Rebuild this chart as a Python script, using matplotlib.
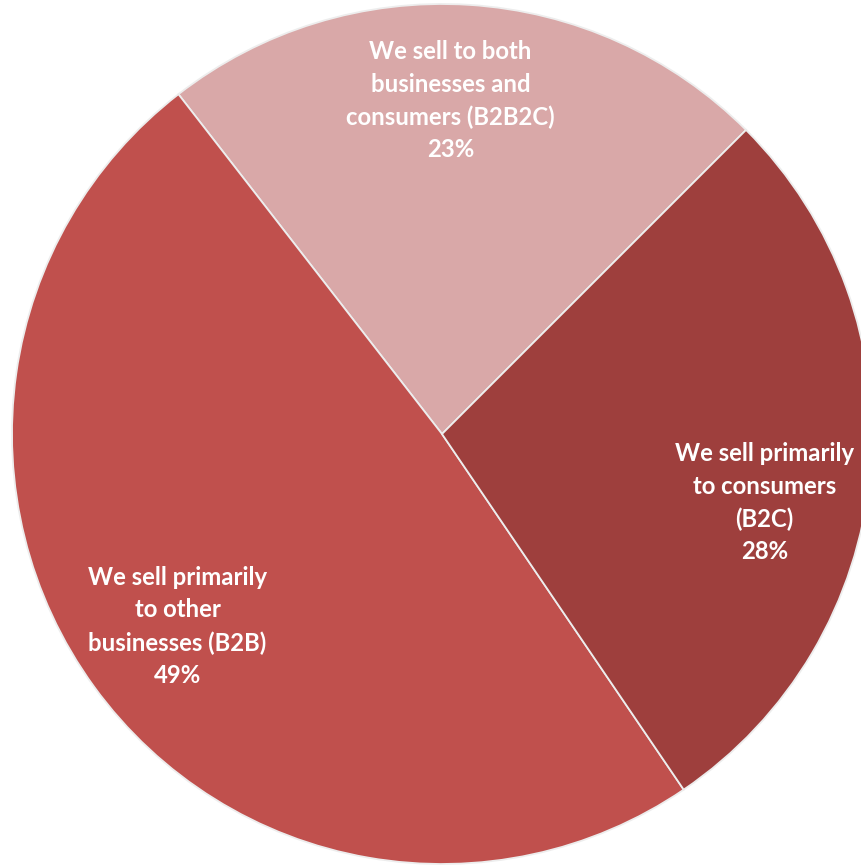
import matplotlib
matplotlib.use("Agg")
import matplotlib.pyplot as plt

# slices, counter-clockwise from the upper right
labels = ["We sell to both\nbusinesses and\nconsumers (B2B2C)\n23%",
          "We sell primarily\nto other\nbusinesses (B2B)\n49%",
          "We sell primarily\nto consumers\n(B2C)\n28%"]
values = [23, 49, 28]
colors = ["#D9A8A8", "#C0504D", "#9E3F3D"]

# label centres (x, y) in pie units, radius = 1
label_xy = [(0.02, 0.775), (-0.615, -0.448), (0.75, -0.16)]

W, H = 861, 867
cx, cy, R = 442, 434, 430   # pie centre and radius in pixels

fig = plt.figure(figsize=(W/100, H/100), dpi=100)
ax = fig.add_axes([0, 0, 1, 1])
ax.pie(values, colors=colors, startangle=45, counterclock=True, radius=1,
       wedgeprops=dict(edgecolor="#EDEDED", linewidth=1.3))
for lab, (x, y) in zip(labels, label_xy):
    ax.text(x, y, lab, ha="center", va="center", color="white",
            fontsize=17.2, fontweight="bold", family="Lato", linespacing=1.5)

ax.set_xlim(-cx/R, (W-cx)/R)
ax.set_ylim(-(H-cy)/R, cy/R)
ax.set_aspect("auto")
ax.axis("off")
fig.savefig("out.png", dpi=100, facecolor="white")
